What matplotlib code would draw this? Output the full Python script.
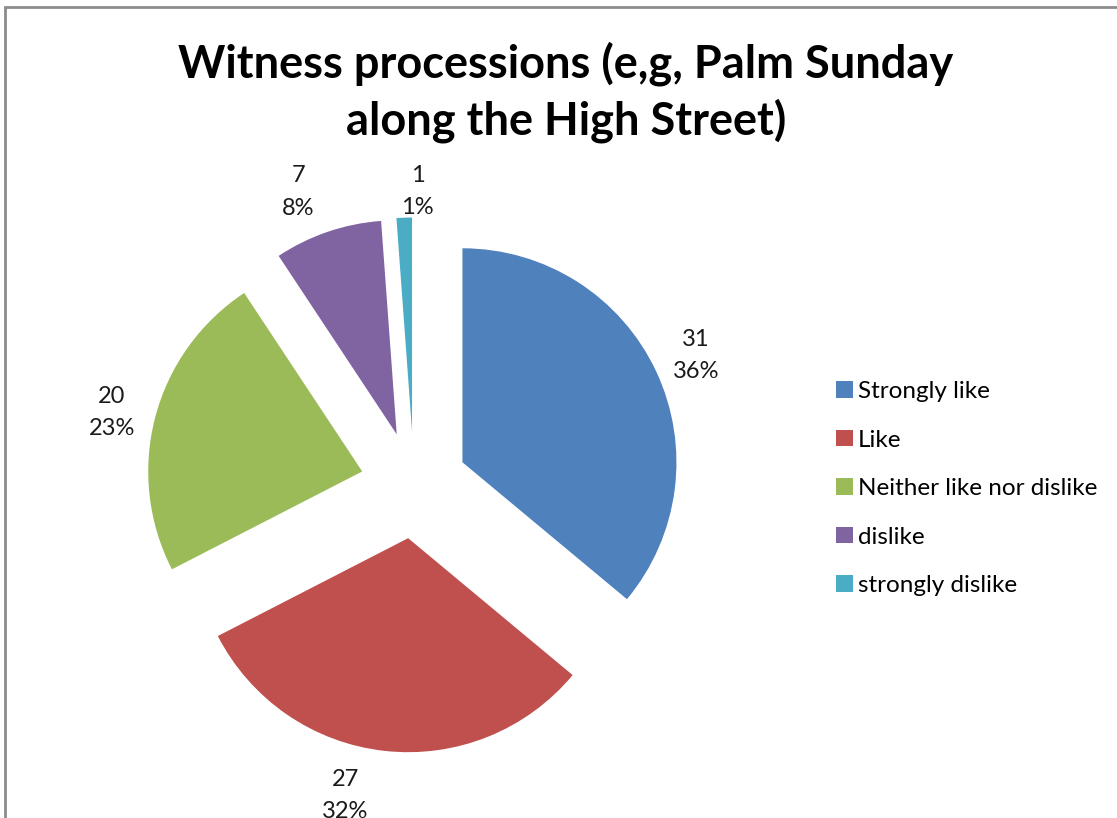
import matplotlib
matplotlib.use("Agg")
import matplotlib.pyplot as plt
from matplotlib.patches import Rectangle

categories = ["Strongly like", "Like", "Neither like nor dislike", "dislike", "strongly dislike"]
values = [31, 27, 20, 7, 1]
percents = [36, 32, 23, 8, 1]
colors = ["#4F81BD", "#C0504D", "#9BBB59", "#8064A2", "#4BACC6"]
title = "Witness processions (e,g, Palm Sunday\nalong the High Street)"

# small per-label nudges (pixels, right / down) to mimic the original label placement
label_nudge = [(-3, 4), (-34, -2), (2, 7), (-14, 5), (15, 21)]

W, H = 1117, 818
fig = plt.figure(figsize=(W / 100, H / 100), dpi=100)
plt.rcParams['font.family'] = ['Lato', 'DejaVu Sans']

# pie geometry in pixels
cx, cy, R = 414, 485, 214
ax = fig.add_axes([0, 0, 1, 1])

labels = [f"{v}\n{p}%" for v, p in zip(values, percents)]
wedges, texts = ax.pie(values, colors=colors, startangle=90, counterclock=False,
                       explode=[0.25] * len(values), radius=1.0, labels=labels,
                       labeldistance=1.22, frame=True,
                       textprops=dict(fontsize=17, ha='center', va='center',
                                      color='#1a1a1a', linespacing=1.68))
for t, (dx, dy) in zip(texts, label_nudge):
    x, y = t.get_position()
    t.set_position((x + dx / R, y - dy / R))

ax.set_xlim(-cx / R, (W - cx) / R)
ax.set_ylim((cy - H) / R, cy / R)
ax.set_aspect('auto')
ax.axis('off')

fig.text(566 / W, 1 - 92 / H, title, ha='center', va='center', fontsize=32.5,
         fontweight='bold', linespacing=1.34, color='black')

leg = ax.legend(wedges, categories, loc='upper left', bbox_to_anchor=(824 / W, 1 - 369 / H),
                bbox_transform=fig.transFigure, frameon=False, fontsize=17.5,
                handlelength=0.68, handleheight=0.68, handletextpad=0.22,
                labelspacing=1.13, borderpad=0)

fig.patches.append(Rectangle((5 / W, -0.1), 1.2, 1.1 - 7 / H, transform=fig.transFigure,
                             fill=False, edgecolor='#8c8c8c', linewidth=2))

fig.savefig("out.png", dpi=100)
